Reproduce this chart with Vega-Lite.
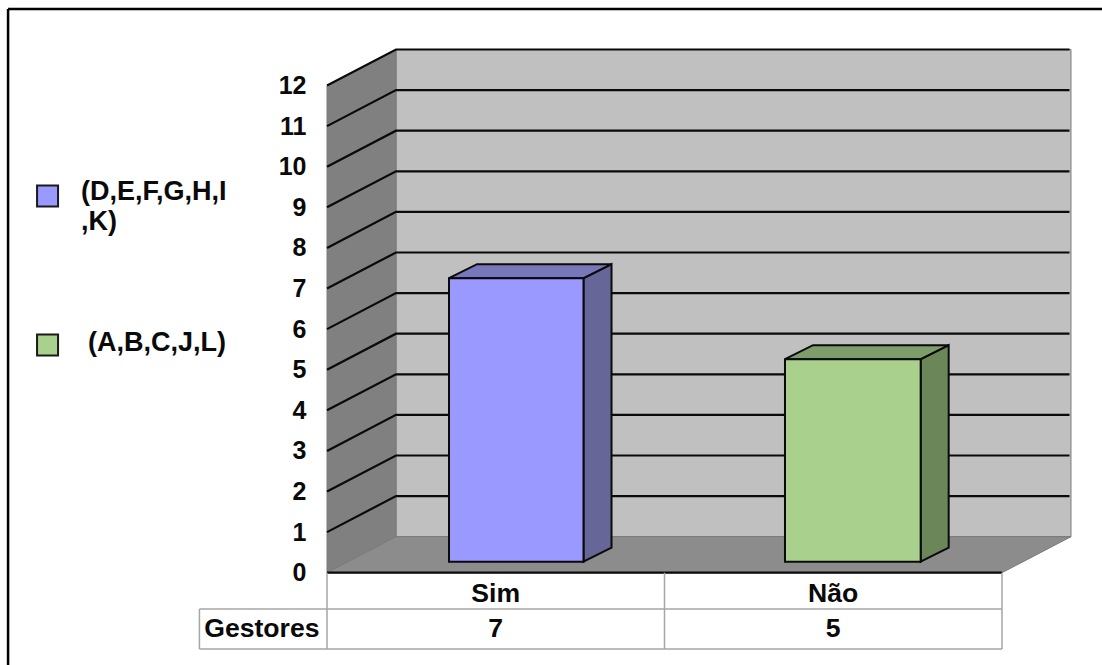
{
  "$schema": "https://vega.github.io/schema/vega-lite/v6.json",
  "width": 1102,
  "height": 665,
  "padding": 0,
  "autosize": {"type": "none"},
  "background": "white",
  "config": {"view": {"stroke": null}},
  "datasets": {
    "paredes": [
      {"face": "fundo", "x": 0.2044, "lo": 0.887, "hi": 12.887},
      {"face": "fundo", "x": 2.2044, "lo": 0.887, "hi": 12.887},
      {"face": "lateral", "x": 0, "lo": 0, "hi": 12},
      {"face": "lateral", "x": 0.2044, "lo": 0.887, "hi": 12.887},
      {"face": "piso", "x": 0, "lo": 0, "hi": 0},
      {"face": "piso", "x": 0.2044, "lo": 0, "hi": 0.887},
      {"face": "piso", "x": 2, "lo": 0, "hi": 0.887},
      {"face": "piso", "x": 2.2044, "lo": 0.887, "hi": 0.887}
    ],
    "grade": [
      {"n": 1, "x": 0, "y": 1}, {"n": 1, "x": 0.2044, "y": 1.887}, {"n": 1, "x": 2.2, "y": 1.887},
      {"n": 2, "x": 0, "y": 2}, {"n": 2, "x": 0.2044, "y": 2.887}, {"n": 2, "x": 2.2, "y": 2.887},
      {"n": 3, "x": 0, "y": 3}, {"n": 3, "x": 0.2044, "y": 3.887}, {"n": 3, "x": 2.2, "y": 3.887},
      {"n": 4, "x": 0, "y": 4}, {"n": 4, "x": 0.2044, "y": 4.887}, {"n": 4, "x": 2.2, "y": 4.887},
      {"n": 5, "x": 0, "y": 5}, {"n": 5, "x": 0.2044, "y": 5.887}, {"n": 5, "x": 2.2, "y": 5.887},
      {"n": 6, "x": 0, "y": 6}, {"n": 6, "x": 0.2044, "y": 6.887}, {"n": 6, "x": 2.2, "y": 6.887},
      {"n": 7, "x": 0, "y": 7}, {"n": 7, "x": 0.2044, "y": 7.887}, {"n": 7, "x": 2.2, "y": 7.887},
      {"n": 8, "x": 0, "y": 8}, {"n": 8, "x": 0.2044, "y": 8.887}, {"n": 8, "x": 2.2, "y": 8.887},
      {"n": 9, "x": 0, "y": 9}, {"n": 9, "x": 0.2044, "y": 9.887}, {"n": 9, "x": 2.2, "y": 9.887},
      {"n": 10, "x": 0, "y": 10}, {"n": 10, "x": 0.2044, "y": 10.887}, {"n": 10, "x": 2.2, "y": 10.887},
      {"n": 11, "x": 0, "y": 11}, {"n": 11, "x": 0.2044, "y": 11.887}, {"n": 11, "x": 2.2, "y": 11.887},
      {"n": 12, "x": 0, "y": 12}, {"n": 12, "x": 0.2044, "y": 12.887}, {"n": 12, "x": 2.2, "y": 12.887},
      {"n": 13, "x": 0, "y": 0}, {"n": 13, "x": 2, "y": 0}
    ],
    "tabela": [
      {"x": 0, "x2": 0, "y": 0, "y2": -1.879},
      {"x": 1, "x2": 1, "y": 0, "y2": -1.879},
      {"x": 2, "x2": 2, "y": 0, "y2": -1.879},
      {"x": -0.378, "x2": -0.378, "y": -0.894, "y2": -1.879},
      {"x": -0.378, "x2": 2, "y": -0.894, "y2": -0.894},
      {"x": -0.378, "x2": 2, "y": -1.879, "y2": -1.879}
    ],
    "moldura": [
      {"x": -0.945, "x2": 2.2963, "y": 13.884, "y2": 13.884},
      {"x": -0.945, "x2": -0.945, "y": 13.884, "y2": -2.273}
    ],
    "celulas": [
      {"texto": "Sim", "x": 0.5, "y": -0.722},
      {"texto": "Não", "x": 1.5, "y": -0.722},
      {"texto": "Gestores", "x": -0.193, "y": -1.58},
      {"texto": "7", "x": 0.5, "y": -1.58},
      {"texto": "5", "x": 1.5, "y": -1.58}
    ],
    "legendaTexto": [
      {"texto": "(D,E,F,G,H,I", "x": -0.729, "y": 9.18},
      {"texto": ",K)", "x": -0.729, "y": 8.45},
      {"texto": "(A,B,C,J,L)", "x": -0.708, "y": 5.46}
    ],
    "legendaChave": [
      {"face": "Sim", "x": -0.828, "y": 9.278},
      {"face": "Não", "x": -0.828, "y": 5.608}
    ],
    "barras": [
      {"face": "Sim", "valor": 7, "base": 0, "esq": 0.3615, "dir": 0.76},
      {"face": "Não", "valor": 5, "base": 0, "esq": 1.357, "dir": 1.759}
    ],
    "facesBarras": [
      {"face": "Sim lado", "x": 0.76, "lo": 0, "hi": 7},
      {"face": "Sim lado", "x": 0.843, "lo": 0.346, "hi": 7.346},
      {"face": "Sim topo", "x": 0.3615, "lo": 7, "hi": 7},
      {"face": "Sim topo", "x": 0.4445, "lo": 7, "hi": 7.346},
      {"face": "Sim topo", "x": 0.76, "lo": 7, "hi": 7.346},
      {"face": "Sim topo", "x": 0.843, "lo": 7.346, "hi": 7.346},
      {"face": "Não lado", "x": 1.759, "lo": 0, "hi": 5},
      {"face": "Não lado", "x": 1.842, "lo": 0.346, "hi": 5.346},
      {"face": "Não topo", "x": 1.357, "lo": 5, "hi": 5},
      {"face": "Não topo", "x": 1.44, "lo": 5, "hi": 5.346},
      {"face": "Não topo", "x": 1.759, "lo": 5, "hi": 5.346},
      {"face": "Não topo", "x": 1.842, "lo": 5.346, "hi": 5.346}
    ]
  },
  "resolve": {"scale": {"y": "independent"}},
  "layer": [
    {
      "layer": [
        {
          "data": {"name": "paredes"},
          "mark": {"type": "area", "stroke": "#7a7a7a", "strokeWidth": 1, "interpolate": "linear"},
          "encoding": {
            "x": {"field": "x", "type": "quantitative", "scale": {"domain": [-0.9689, 2.2963], "nice": false, "zero": false}, "axis": null},
            "y": {
              "field": "lo", "type": "quantitative",
              "scale": {"domain": [-2.273, 14.106], "nice": false, "zero": false},
              "axis": {
                "orient": "left", "offset": -312, "values": [0, 1, 2, 3, 4, 5, 6, 7, 8, 9, 10, 11, 12], "format": "d",
                "title": null, "domain": false, "ticks": false, "grid": false, "labelPadding": 6,
                "labelFont": "Liberation Sans", "labelFontWeight": "bold", "labelFontSize": 25, "labelColor": "#0a0a0a"
              }
            },
            "y2": {"field": "hi"},
            "fill": {
              "field": "face", "type": "nominal", "legend": null,
              "scale": {
                "domain": ["fundo", "lateral", "piso", "Sim", "Sim lado", "Sim topo", "Não", "Não lado", "Não topo"],
                "range": ["#c0c0c0", "#808080", "#8c8c8c", "#9999ff", "#666699", "#7777bb", "#aad08e", "#6b8759", "#7f9d6b"]
              }
            },
            "detail": {"field": "face"}
          }
        },
        {
          "data": {"name": "grade"},
          "mark": {"type": "line", "color": "#0a0a0a", "strokeWidth": 2.2},
          "encoding": {
            "x": {"field": "x", "type": "quantitative"},
            "y": {"field": "y", "type": "quantitative"},
            "detail": {"field": "n"}
          }
        },
        {
          "data": {"name": "tabela"},
          "mark": {"type": "rule", "color": "#a6a6a6", "strokeWidth": 1.5},
          "encoding": {
            "x": {"field": "x", "type": "quantitative"},
            "x2": {"field": "x2"},
            "y": {"field": "y", "type": "quantitative"},
            "y2": {"field": "y2"}
          }
        },
        {
          "data": {"name": "moldura"},
          "mark": {"type": "rule", "color": "#000000", "strokeWidth": 2.5},
          "encoding": {
            "x": {"field": "x", "type": "quantitative"},
            "x2": {"field": "x2"},
            "y": {"field": "y", "type": "quantitative"},
            "y2": {"field": "y2"}
          }
        },
        {
          "data": {"name": "celulas"},
          "mark": {"type": "text", "font": "Liberation Sans", "fontWeight": "bold", "fontSize": 26.6, "align": "center", "baseline": "alphabetic", "color": "#0a0a0a"},
          "encoding": {
            "x": {"field": "x", "type": "quantitative"},
            "y": {"field": "y", "type": "quantitative"},
            "text": {"field": "texto"}
          }
        },
        {
          "data": {"name": "legendaTexto"},
          "mark": {"type": "text", "font": "Liberation Sans", "fontWeight": "bold", "fontSize": 27, "align": "left", "baseline": "alphabetic", "color": "#0a0a0a"},
          "encoding": {
            "x": {"field": "x", "type": "quantitative"},
            "y": {"field": "y", "type": "quantitative"},
            "text": {"field": "texto"}
          }
        },
        {
          "data": {"name": "legendaChave"},
          "mark": {"type": "point", "shape": "square", "filled": true, "size": 441, "opacity": 1, "stroke": "#1a1a1a", "strokeWidth": 2},
          "encoding": {
            "x": {"field": "x", "type": "quantitative"},
            "y": {"field": "y", "type": "quantitative"},
            "fill": {"field": "face", "type": "nominal"}
          }
        }
      ]
    },
    {
      "layer": [
        {
          "data": {"name": "facesBarras"},
          "mark": {"type": "area", "stroke": "#0a0a0a", "strokeWidth": 2, "interpolate": "linear"},
          "encoding": {
            "x": {"field": "x", "type": "quantitative"},
            "y": {"field": "lo", "type": "quantitative", "scale": {"domain": [-2.551, 13.869], "nice": false, "zero": false}, "axis": null},
            "y2": {"field": "hi"},
            "fill": {"field": "face", "type": "nominal"},
            "detail": {"field": "face"}
          }
        },
        {
          "data": {"name": "barras"},
          "mark": {"type": "rect", "stroke": "#0a0a0a", "strokeWidth": 2},
          "encoding": {
            "x": {"field": "esq", "type": "quantitative"},
            "x2": {"field": "dir"},
            "y": {"field": "valor", "type": "quantitative"},
            "y2": {"field": "base"},
            "fill": {"field": "face", "type": "nominal"}
          }
        }
      ]
    }
  ]
}
